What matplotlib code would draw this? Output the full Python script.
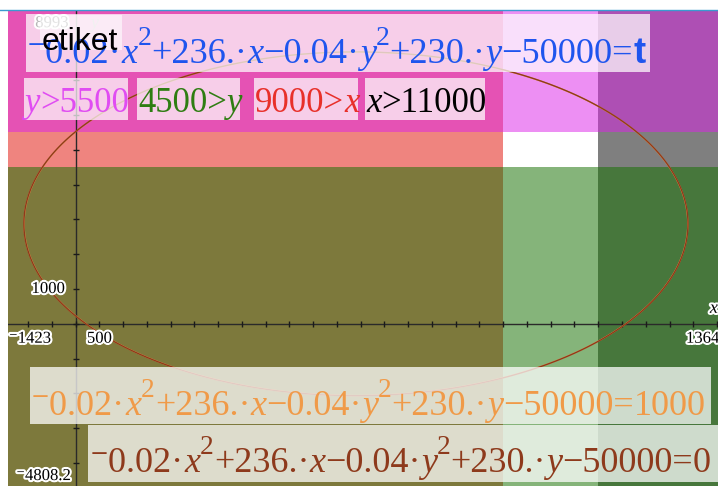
import numpy as np
import matplotlib
matplotlib.use('Agg')
import matplotlib.pyplot as plt
from matplotlib.patches import Rectangle
from matplotlib.lines import Line2D
import matplotlib.patheffects as pe

# window
x_min, x_max = -1423, 13647
y_min, y_max = -4808.2, 8993
x_step, y_step = 500, 1000

# conic: a*x^2 + b*x + c*y^2 + d*y + e = t
coeffs = [-0.02, 236, -0.04, 230, -50000]
levels = [1000, 0]
level_colors = ['#F0A050', '#8E3A1C']

# inequalities
y_above = 5500
y_below = 4500
x_below = 9000
x_above = 11000

W, H = 718, 486
fig = plt.figure(figsize=(W / 100, H / 100), dpi=100)
renderer = fig.canvas.get_renderer()
serif = ['Liberation Serif', 'DejaVu Serif']

# plot area in pixels (left, top, right, bottom)
L, T, R, B = 8, 11, 724, 491
ax = fig.add_axes([L / W, 1 - B / H, (R - L) / W, (B - T) / H])
ax.set_xlim(x_min, x_max)
ax.set_ylim(y_min, y_max)
ax.axis('off')

# shaded regions
ax.axvspan(x_min, x_below, color='#E10B01', alpha=0.5, lw=0)
ax.axvspan(x_above, x_max, color='#000000', alpha=0.5, lw=0)
ax.axhspan(y_above, y_max, color='#DD21E9', alpha=0.5, lw=0)
ax.axhspan(y_min, y_below, color='#157000', alpha=0.52, lw=0)

# axes with ticks
ax.axhline(0, color='#2a2a2a', lw=1)
ax.axvline(0, color='#2a2a2a', lw=1)
xt = np.arange(-1000, x_max, x_step)
yt = np.arange(-4000, y_max, y_step)
ax.plot(xt, np.zeros_like(xt), ls='none', marker='|', ms=5, mew=1, color='#1a1a1a')
ax.plot(np.zeros_like(yt), yt, ls='none', marker='_', ms=5, mew=1, color='#1a1a1a')

# curves
a, b, c, d, e = coeffs
gx = np.linspace(x_min, x_max, 900)
gy = np.linspace(y_min, y_max, 700)
X, Y = np.meshgrid(gx, gy)
F = a * X**2 + b * X + c * Y**2 + d * Y + e
for t, col in zip(levels, level_colors):
    ax.contour(X, Y, F, levels=[t], colors=[col], linewidths=1.0)

# tick / window labels
halo = [pe.withStroke(linewidth=3, foreground='white')]
lab = dict(family=serif, fontsize=12, color='black', path_effects=halo)
ax.text(-230, y_step, '1000', ha='right', va='center', **lab)
ax.text(x_step, -200, '500', ha='center', va='top', **lab)
ax.text(x_min + 20, -200, '\u207b1423', ha='left', va='top', **lab)
ax.text(x_max - 800, -200, '13647', ha='left', va='top', **lab)
ax.text(-850, y_max - 120, '8993', ha='left', va='top', **lab)
ax.text(-1250, y_min + 200, '\u207b4808.2', ha='left', va='bottom', **lab)
ax.text(320, y_max - 120, 'y', ha='left', va='top', style='italic', color='#888888',
        family=serif, fontsize=13)
ax.text(13350, 200, 'x', ha='left', va='bottom', style='italic', color='black',
        family=serif, fontsize=13, path_effects=halo)


def box(x0, y0, x1, y1, alpha=0.72, fc='white'):
    fig.add_artist(Rectangle((x0 / W, 1 - y1 / H), (x1 - x0) / W, (y1 - y0) / H,
                             transform=fig.transFigure, facecolor=fc, alpha=alpha, lw=0))


def run(px, py, segs, size, color):
    # draw text pieces one after another from (px, py) baseline, pixels from top-left
    x = px
    for s, kind in segs:
        fs, dy = size, 0.0
        kw = dict(family=serif, style='normal', weight='normal')
        if kind == 'it':
            kw['style'] = 'italic'
        elif kind == 'sup':
            fs = size * 0.76
            dy = size * 100 / 72 * 0.5
        elif kind == 'bf':
            kw['family'] = ['Liberation Sans', 'DejaVu Sans']
            kw['weight'] = 'bold'
        txt = fig.text(x / W, 1 - (py - dy) / H, s, fontsize=fs, color=color,
                       va='baseline', ha='left', **kw)
        x += txt.get_window_extent(renderer).width
    return x


def eq_segs(rhs, kind='n'):
    return [('\u207b%g\u00b7' % abs(a), 'n'), ('x', 'it'), ('2', 'sup'),
            ('+%g.\u00b7' % b, 'n'), ('x', 'it'),
            ('\u2212%g\u00b7' % abs(c), 'n'), ('y', 'it'), ('2', 'sup'),
            ('+%g.\u00b7' % d, 'n'), ('y', 'it'),
            ('\u2212%g=' % abs(e), 'n'), (rhs, kind)]


# top equation
box(26, 14, 650, 72)
run(27, 63, eq_segs('t', 'bf'), 26.2, '#1F55EE')

# "etiket" label
box(40, 15, 122, 50, alpha=0.6)
fig.text(42 / W, 1 - 50 / H, 'etiket', family='Liberation Sans', fontsize=23,
         color='black', va='baseline')

# inequality labels
ineq = [
    ((24, 78, 128, 120), [('y', 'it'), ('>%d' % y_above, 'n')], '#E04CF2'),
    ((137, 78, 240, 120), [('%d>' % y_below, 'n'), ('y', 'it')], '#2E7D12'),
    ((254, 78, 358, 120), [('%d>' % x_below, 'n'), ('x', 'it')], '#E8302A'),
    ((365, 78, 485, 120), [('x', 'it'), ('>%d' % x_above, 'n')], '#000000'),
]
for (x0, y0, x1, y1), segs, col in ineq:
    box(x0, y0, x1, y1)
    run(x0 + 1, 112, segs, 25, col)

# bottom equations
box(30, 367, 711, 424, alpha=0.74)
run(31, 415, eq_segs(str(levels[0])), 26.0, '#F09A48')
box(88, 425, 730, 482, alpha=0.74)
run(90, 472, eq_segs(str(levels[1])), 26.0, '#8E3A1C')

# top border line
fig.add_artist(Line2D([0, 1], [1 - 10 / H, 1 - 10 / H], transform=fig.transFigure,
                      color='#3A9AD0', lw=1))

fig.savefig('out.png', dpi=100)
